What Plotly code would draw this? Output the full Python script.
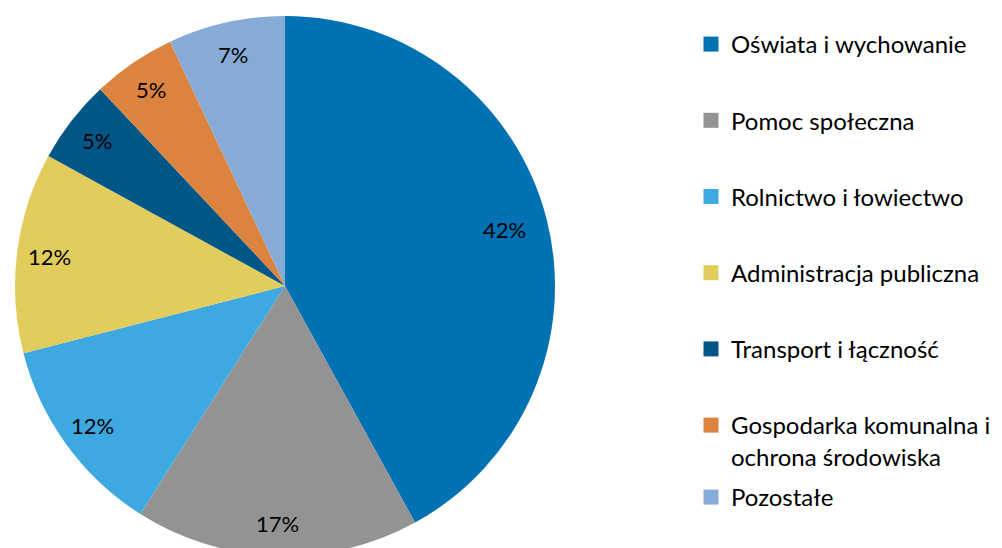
import math
import plotly.graph_objects as go

categories = ["Oświata i wychowanie", "Pomoc społeczna", "Rolnictwo i łowiectwo",
              "Administracja publiczna", "Transport i łączność",
              "Gospodarka komunalna i<br>ochrona środowiska", "Pozostałe"]
values = [42, 17, 12, 12, 5, 5, 7]
colors = ["#0071B2", "#939393", "#3EA8E0", "#E2CC5B", "#005687", "#DC843F", "#86ABD7"]
label_radius = [0.84, 0.88, 0.88, 0.88, 0.88, 0.88, 0.88]  # styling: label distance from centre

W, H = 1002, 548
OFF = 8  # page body margin offset
FONT = "Lato"

# pie geometry in figure pixels
cx_px, cy_px, r_px = 285 - OFF, 286 - OFF, 270
dom_x = [(cx_px - r_px) / W, (cx_px + r_px) / W]
dom_y = [max(0, (H - (cy_px + r_px)) / H), (H - (cy_px - r_px)) / H]

fig = go.Figure()
fig.add_trace(go.Pie(
    labels=categories, values=values, sort=False, direction="clockwise", rotation=0,
    marker=dict(colors=colors, line=dict(width=0)),
    textinfo="none", showlegend=False, domain=dict(x=dom_x, y=dom_y),
    hovertemplate="%{label}: %{percent}<extra></extra>",
))

# data labels placed along each slice bisector
total = sum(values)
cum = 0
annotations = []
for v, lr in zip(values, label_radius):
    mid = (cum + v / 2) / total * 2 * math.pi
    cum += v
    rr = r_px * lr
    px = cx_px + rr * math.sin(mid)
    py = cy_px - rr * math.cos(mid)
    annotations.append(dict(x=px / W, y=1 - py / H, xref="paper", yref="paper",
                            xanchor="center", yanchor="middle",
                            text=f"{round(v / total * 100)}%", showarrow=False,
                            font=dict(family=FONT, size=22, color="#000000")))

# legend entries
for i, (c, col) in enumerate(zip(categories, colors)):
    fig.add_trace(go.Scatter(
        x=[None], y=[None], mode="markers", name=c,
        marker=dict(symbol="square", size=15, color=col),
        legendgroup=f"g{i}", legend="legend2" if i == len(categories) - 1 else "legend",
    ))

LEG_X = (691 - OFF) / W
fig.update_layout(
    width=W, height=H, margin=dict(l=0, r=0, t=0, b=0),
    paper_bgcolor="white", plot_bgcolor="white",
    xaxis=dict(visible=False), yaxis=dict(visible=False),
    annotations=annotations,
    legend=dict(x=LEG_X, y=1 - 14 / H, xanchor="left", yanchor="top",
                traceorder="grouped", tracegroupgap=42, valign="top",
                itemwidth=30, font=dict(family=FONT, size=24, color="#000000"),
                bgcolor="rgba(0,0,0,0)"),
    legend2=dict(x=LEG_X, y=1 - 467 / H, xanchor="left", yanchor="top",
                 valign="top", itemwidth=30,
                 font=dict(family=FONT, size=24, color="#000000"),
                 bgcolor="rgba(0,0,0,0)"),
)

fig.write_html("out.html")
